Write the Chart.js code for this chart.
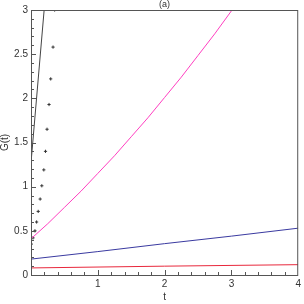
<!DOCTYPE html>
<html>
<head>
<meta charset="utf-8">
<script src="https://cdn.jsdelivr.net/npm/chart.js@4"></script>
<style>
  html, body { margin: 0; padding: 0; background: #fff; }
  #wrap { width: 304px; height: 304px; }
</style>
</head>
<body>
<div id="wrap"><canvas id="chart"></canvas></div>
<script>
const blackT = [0, 0.2];
const blackG = [1.27, 3.03];

const crossT = [0.005, 0.03, 0.059, 0.084, 0.108, 0.137, 0.162, 0.192, 0.217, 0.24, 0.27, 0.295, 0.33, 0.354];
const crossG = [0.35, 0.42, 0.50, 0.60, 0.72, 0.86, 1.01, 1.19, 1.40, 1.65, 1.93, 2.22, 2.58, 3.0];

const pinkT = [0, 0.25, 0.5, 0.75, 1, 1.25, 1.5, 1.75, 2, 2.25, 2.5, 2.75, 3, 3.1];
const pinkG = [0.41, 0.58, 0.765, 0.95, 1.15, 1.35, 1.565, 1.78, 2.01, 2.24, 2.485, 2.73, 2.99, 3.08];

const blueT = [0, 1, 2, 3, 4];
const blueG = [0.18, 0.265, 0.355, 0.44, 0.53];

const redT = [0, 2, 4];
const redG = [0.08, 0.10, 0.117];

const xTicks = [1, 2, 3, 4];
const yTicks = [0, 0.5, 1, 1.5, 2, 2.5, 3];

const pts = (xs, ys) => xs.map((x, i) => ({x: x, y: ys[i]}));

const line = (xs, ys, color) => ({
  data: pts(xs, ys),
  showLine: true,
  borderColor: color,
  borderWidth: 1,
  pointRadius: 0,
  fill: false
});

// box, inside ticks and the "(a)" title
const frame = {
  id: 'frame',
  afterDraw(chart) {
    const {ctx, chartArea: a, scales: {x, y}} = chart;
    ctx.save();
    ctx.strokeStyle = '#555';
    ctx.lineWidth = 1;
    ctx.strokeRect(a.left + 0.5, a.top + 0.5, a.right - a.left - 1, a.bottom - a.top);
    ctx.beginPath();
    for (let i = 1; i < 20; i++) {
      const px = Math.round(x.getPixelForValue(i * 0.2)) + 0.5;
      const len = i % 5 === 0 ? 5 : 3;
      ctx.moveTo(px, a.bottom);
      ctx.lineTo(px, a.bottom - len);
    }
    for (let i = 1; i < 30; i++) {
      const py = Math.round(y.getPixelForValue(i * 0.1)) + 0.5;
      const len = i % 5 === 0 ? 5 : 3;
      ctx.moveTo(a.left, py);
      ctx.lineTo(a.left + len, py);
    }
    ctx.stroke();
    ctx.fillStyle = '#333';
    ctx.font = '9px "Liberation Sans", Arial, sans-serif';
    ctx.textAlign = 'center';
    ctx.textBaseline = 'bottom';
    ctx.fillText('(a)', (a.left + a.right) / 2, a.top - 1);
    ctx.restore();
  }
};

new Chart(document.getElementById('chart'), {
  type: 'scatter',
  data: {
    datasets: [
      line(redT, redG, '#e8283c'),
      line(blueT, blueG, '#3a3aa0'),
      line(pinkT, pinkG, '#ff3fc0'),
      line(blackT, blackG, '#444'),
      {
        data: pts(crossT, crossG),
        showLine: false,
        pointStyle: 'cross',
        pointRadius: 1.6,
        borderColor: '#333',
        borderWidth: 1
      }
    ]
  },
  options: {
    responsive: true,
    maintainAspectRatio: false,
    animation: false,
    layout: { padding: { top: 10, right: 2, left: 0, bottom: 0 } },
    plugins: { legend: { display: false }, tooltip: { enabled: false } },
    scales: {
      x: {
        type: 'linear',
        min: 0, max: 4,
        afterBuildTicks: s => { s.ticks = xTicks.map(v => ({value: v})); },
        afterFit: s => { s.height = 29; },
        grid: { display: false, drawTicks: false },
        border: { display: false },
        ticks: { color: '#333', padding: 3, maxRotation: 0,
                 callback: v => String(v),
                 font: { family: '"Liberation Sans", Arial, sans-serif', size: 10 } },
        title: { display: true, text: 't', color: '#333', padding: { top: 0, bottom: 1 },
                 font: { family: '"Liberation Sans", Arial, sans-serif', size: 10 } }
      },
      y: {
        type: 'linear',
        min: 0, max: 3,
        afterBuildTicks: s => { s.ticks = yTicks.map(v => ({value: v})); },
        afterFit: s => { s.width = 31; },
        grid: { display: false, drawTicks: false },
        border: { display: false },
        ticks: { color: '#333', padding: 3,
                 callback: v => String(v),
                 font: { family: '"Liberation Sans", Arial, sans-serif', size: 10 } },
        title: { display: true, text: 'G(t)', color: '#333', padding: { top: 0, bottom: 0 },
                 font: { family: '"Liberation Sans", Arial, sans-serif', size: 10, lineHeight: 1 } }
      }
    }
  },
  plugins: [frame]
});
</script>
</body>
</html>
